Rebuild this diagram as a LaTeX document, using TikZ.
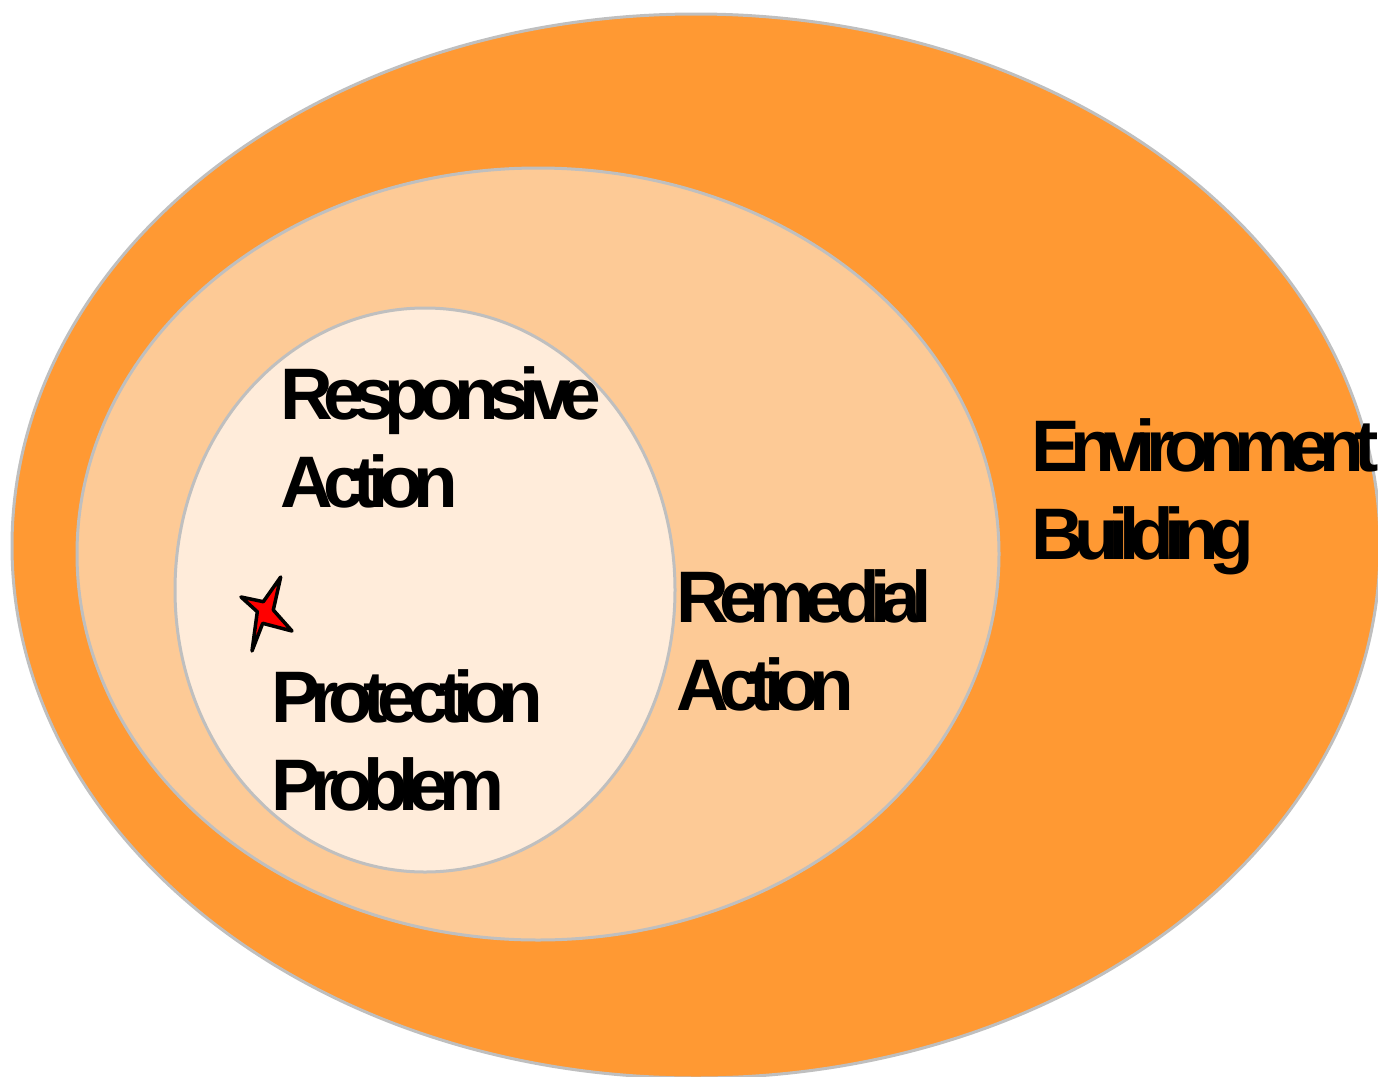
\documentclass[tikz,border=0pt]{standalone}
\usepackage{fontspec}
\newfontfamily\lblfont[LetterSpace=-13.5]{Liberation Sans}
\definecolor{outerC}{RGB}{255,153,51}
\definecolor{midC}{RGB}{253,202,150}
\definecolor{innerC}{RGB}{255,236,218}
\definecolor{rimC}{RGB}{191,191,191}
\tikzset{
  zone/.style={draw=rimC, line width=3pt},
  lbl/.style={inner sep=0pt, anchor=base west, align=left,
    font=\lblfont\bfseries\fontsize{73}{88}\selectfont, text=black},
  starshape/.style={draw=black, fill=red, line width=3.5pt, line join=round}
}
\begin{document}
\begin{tikzpicture}[x=1pt,y=-1pt]
\useasboundingbox (0,0) rectangle (1378,1076);
\clip (0,0) rectangle (1378,1076);
\path[zone, fill=outerC] (696,546) ellipse [x radius=684, y radius=532];
\path[zone, fill=midC] (538,554) ellipse [x radius=461, y radius=386];
\path[zone, fill=innerC] (425,590) ellipse [x radius=250, y radius=282];
% anchor base = baseline of the last line
\node[lbl] (resp) at (280,507) {Responsive\\Action};
\node[lbl] (prot) at (271,810) {Protection\\Problem};
\node[lbl] (reme) at (676,710) {Remedial\\Action};
\node[lbl] (envi) at (1031,559) {Environment\\Building};
\draw[starshape] (280.7,577) -- (273.3,610) -- (292,631) -- (262.7,623.3)
  -- (252,651) -- (257.3,611.7) -- (241,597) -- (263.3,601.7) -- cycle;
\end{tikzpicture}
\end{document}
